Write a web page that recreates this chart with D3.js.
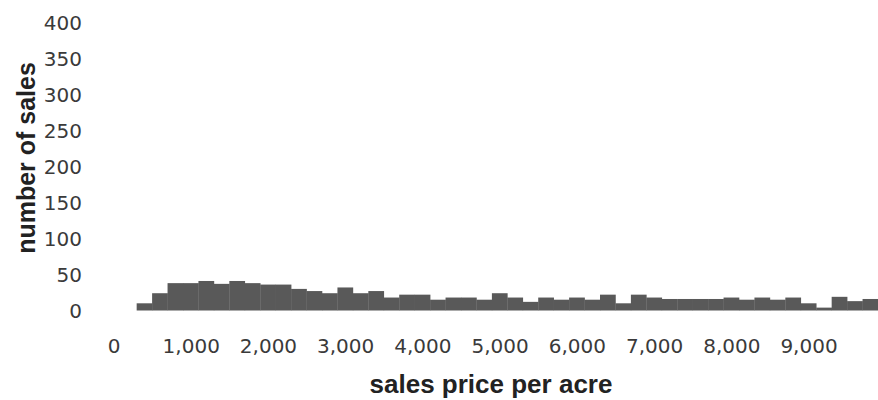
<!DOCTYPE html>
<html>
<head>
<meta charset="utf-8">
<script src="https://cdn.jsdelivr.net/npm/d3@7"></script>
<style>
  html, body { margin: 0; padding: 0; background: #fff; }
  svg { display: block; }
</style>
</head>
<body>
<svg id="chart" width="878" height="400"></svg>
<script>
// Histogram bins (lower edge of each 200-wide bin, sales price per acre)
const binStarts = [300,500,700,900,1100,1300,1500,1700,1900,2100,2300,2500,2700,2900,3100,3300,
  3500,3700,3900,4100,4300,4500,4700,4900,5100,5300,5500,5700,5900,6100,6300,6500,
  6700,6900,7100,7300,7500,7700,7900,8100,8300,8500,8700,8900,9100,9300,9500,9700];
const binWidth = 200;
// number of sales per bin
const salesCounts = [10,24,38,38,41,37,41,38,36,36,30,27,24,32,24,27,
  18,22,22,15,18,18,15,24,18,12,18,15,18,15,22,10,
  22,18,16,16,16,16,18,15,18,15,18,10,4,19,13,16];
const xTicks = [0,1000,2000,3000,4000,5000,6000,7000,8000,9000];
const yTicks = [0,50,100,150,200,250,300,350,400];

const svg = d3.select("#chart");
const x = d3.scaleLinear().domain([0, 9900]).range([113.5, 878]);
const y = d3.scaleLinear().domain([0, 400]).range([310.5, 22.5]);

const bins = binStarts.map((s, i) => ({ x0: s, x1: s + binWidth, v: salesCounts[i] }));

svg.append("g").selectAll("rect").data(bins).join("rect")
  .attr("x", d => x(d.x0))
  .attr("width", d => x(d.x1) - x(d.x0) + 0.3)
  .attr("y", d => y(d.v))
  .attr("height", d => y(0) - y(d.v))
  .attr("fill", "#595959");

// y axis (labels only)
const yAxis = d3.axisLeft(y).tickValues(yTicks).tickSize(0).tickPadding(0).tickFormat(d3.format("d"));
const gy = svg.append("g").attr("transform", "translate(82,0)").call(yAxis);
gy.select(".domain").remove();
gy.selectAll("text").attr("font-family", "DejaVu Sans, Verdana, sans-serif")
  .attr("font-size", 20).attr("fill", "#3a3a3a").attr("dy", "0.36em");

// x axis (labels only)
const xAxis = d3.axisBottom(x).tickValues(xTicks).tickSize(0).tickPadding(0).tickFormat(d3.format(","));
const gx = svg.append("g").attr("transform", "translate(0,346)").call(xAxis);
gx.select(".domain").remove();
gx.selectAll("text").attr("font-family", "DejaVu Sans, Verdana, sans-serif")
  .attr("font-size", 20).attr("fill", "#3a3a3a").attr("dy", "0.36em");

// axis titles
svg.append("text")
  .attr("transform", "translate(35,158) rotate(-90)")
  .attr("text-anchor", "middle")
  .attr("font-family", "Liberation Sans, Arial, sans-serif")
  .attr("font-weight", "bold").attr("font-size", 25).attr("fill", "#222")
  .text("number of sales");

svg.append("text")
  .attr("x", 491).attr("y", 393)
  .attr("text-anchor", "middle")
  .attr("font-family", "Liberation Sans, Arial, sans-serif")
  .attr("font-weight", "bold").attr("font-size", 26).attr("fill", "#222")
  .text("sales price per acre");
</script>
</body>
</html>
